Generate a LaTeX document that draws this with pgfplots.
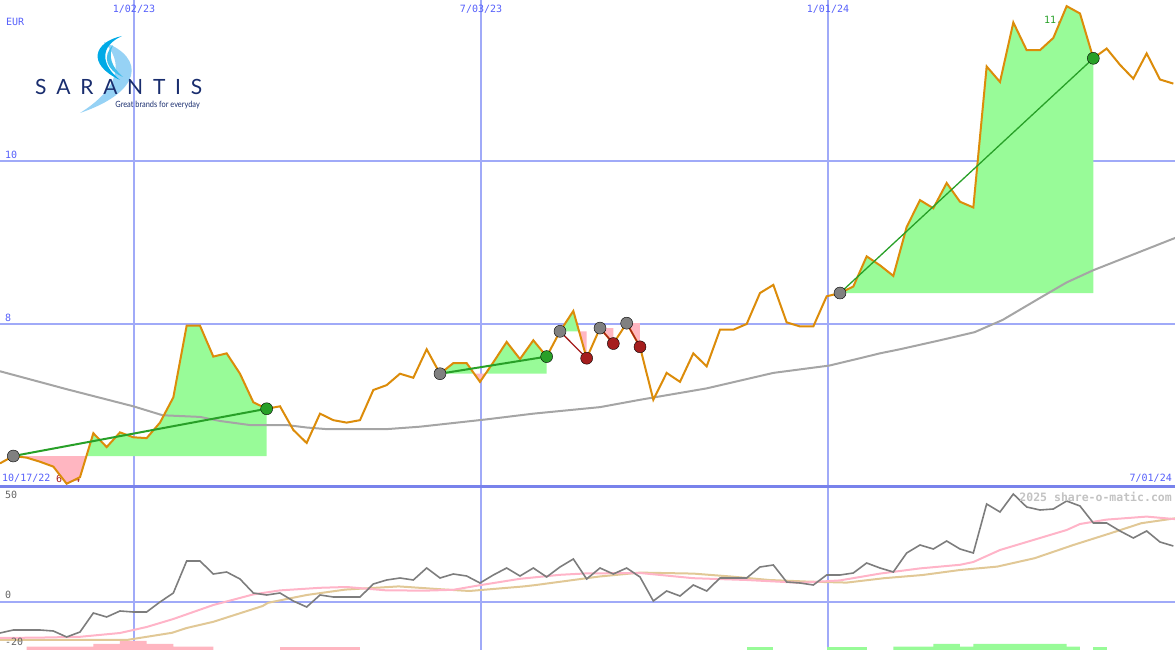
\documentclass[border=0pt]{standalone}
\usepackage{fontspec}
\usepackage{pgfplots}
\usepackage{pgfplotstable}
\pgfplotsset{compat=1.18}
\newfontfamily\monofont{DejaVu Sans Mono}
\newfontfamily\logofont{Lato}
\definecolor{gridblue}{RGB}{160,170,248}
\definecolor{sepblue}{RGB}{120,130,235}
\definecolor{lblue}{RGB}{85,95,250}
\definecolor{orng}{RGB}{220,140,10}
\definecolor{fgreen}{RGB}{152,251,152}
\definecolor{fpink}{RGB}{255,182,193}
\definecolor{tgreen}{RGB}{40,160,40}
\definecolor{tred}{RGB}{165,30,30}
\definecolor{mkgray}{RGB}{128,128,128}
\definecolor{magray}{RGB}{165,165,165}
\definecolor{momgray}{RGB}{125,125,125}
\definecolor{tanline}{RGB}{225,200,150}
\definecolor{pinkline}{RGB}{255,180,200}
\definecolor{navy}{RGB}{25,45,110}
\definecolor{cyanlogo}{RGB}{0,170,230}
\definecolor{lbluelogo}{RGB}{150,210,245}
\definecolor{wmgray}{RGB}{195,195,195}
\definecolor{lblgray}{RGB}{100,100,100}

% weekly close, EUR (week index from 10/17/22)
\pgfplotstableread{
i p
0 6.29
1 6.38
2 6.36
3 6.31
4 6.25
5 6.04
6 6.12
7 6.66
8 6.49
9 6.67
10 6.61
11 6.60
12 6.79
13 7.10
14 7.98
15 7.98
16 7.60
17 7.64
18 7.39
19 7.04
20 6.96
21 6.99
22 6.70
23 6.54
24 6.90
25 6.82
26 6.79
27 6.82
28 7.19
29 7.25
30 7.39
31 7.34
32 7.69
33 7.39
34 7.52
35 7.52
36 7.29
37 7.53
38 7.78
39 7.57
40 7.80
41 7.60
42 7.91
43 8.16
44 7.58
45 7.95
46 7.76
47 8.01
48 7.72
49 7.07
50 7.40
51 7.29
52 7.64
53 7.48
54 7.93
55 7.93
56 8.00
57 8.38
58 8.48
59 8.02
60 7.97
61 7.97
62 8.34
63 8.38
64 8.46
65 8.83
66 8.72
67 8.59
68 9.19
69 9.52
70 9.42
71 9.73
72 9.50
73 9.43
74 11.16
75 10.97
76 11.70
77 11.36
78 11.36
79 11.51
80 11.90
81 11.81
82 11.26
83 11.38
84 11.18
85 11.01
86 11.32
87 11.00
88 10.95
}\price

% long moving average
\pgfplotstableread{
i ma
0 7.42
5 7.20
10 6.99
12.2 6.88
15 6.86
16.5 6.81
18.75 6.76
21.5 6.76
23 6.73
24.5 6.71
29 6.71
31.5 6.74
36.5 6.83
40 6.90
45 6.98
48 7.07
53 7.21
58 7.40
62.2 7.49
64.5 7.58
66 7.64
67.5 7.69
70.5 7.80
73.1 7.90
75.2 8.05
78 8.32
80 8.51
82 8.66
88.2 9.06
}\mavg

% lower panel: momentum
\pgfplotstableread{
i m
0 -15.5
1 -14
2 -14
3 -14
4 -14.5
5 -17.5
6 -15
7 -5.5
8 -7.5
9 -4.5
10 -5
11 -5
12 0
13 4.5
14 20.5
15 20.5
16 14
17 15
18 11.5
19 4.5
20 3.5
21 4.5
22 0.5
23 -2.5
24 3.5
25 2.5
26 2.5
27 2.5
28 9
29 11
30 12
31 11
32 17
33 12
34 14
35 13
36 9.5
37 13.5
38 17
39 13
40 17
41 12.5
42 17.5
43 21.5
44 11.5
45 17
46 14
47 17
48 12.5
49 0.5
50 5.5
51 3
52 8.5
53 5.5
54 12
55 12
56 12
57 17.5
58 18.5
59 10
60 9.5
61 8.5
62 13.5
63 13.5
64 14.5
65 19.5
66 17
67 15
68 24.5
69 28.5
70 26.5
71 30.5
72 26.5
73 24.5
74 49
75 45
76 54
77 47.5
78 46
79 46.5
80 50.5
81 48
82 39.5
83 39.5
84 35.5
85 32
86 35.5
87 30
88 28
}\mom

\pgfplotstableread{
i s
0 -18
3 -17.8
6 -17.4
9 -15.5
11 -12.5
13 -8.5
16 -1.5
19 3.8
21 5.8
24 7.1
26 7.5
29 5.8
32 5.7
34 6.1
36 8.4
39 11.6
42 13.6
44 14.3
48 14.5
52 11.9
56 11
60 9.6
63 10.8
66 14.2
69 16.8
72 18.6
73 20
75 26
78 32
80 36
81 39
83 41.2
86 42.7
88.2 41.4
}\fast

\pgfplotstableread{
i s
0 -19
9.5 -19
12.9 -15.4
14 -13
16 -9.9
19.7 -2
20.1 -0.4
23 3.5
25.9 6.2
29.9 7.8
33 6.4
35.2 5.5
39.3 7.8
40.2 8.5
44.9 12.7
48 14.7
52 14.2
54.9 12.7
57.7 11
60.6 10.2
63.5 9.7
66.3 11.9
69.2 13.5
72 16
74.8 17.7
77.6 21.9
80.5 28.5
83.3 34.4
85.6 39.4
88.2 41.9
}\slow

\pgfplotsset{
  chart/.style={
    scale only axis, width=1175pt, xmin=0, xmax=88.125,
    axis line style={draw=none}, tick style={draw=none},
    xtick={10.05,36.08,62.1}, xticklabels={}, yticklabels={},
    xmajorgrids, ymajorgrids,
    x grid style={gridblue, line width=1.2pt},
    y grid style={gridblue, line width=2pt}
  }
}
\tikzset{lbl/.style={inner sep=0pt, font=\monofont\fontsize{10}{10}\selectfont}}

\begin{document}
\begin{tikzpicture}
\path[use as bounding box] (0pt,0pt) rectangle (1175pt,650pt);

% price panel
\begin{axis}[chart, at={(0pt,163pt)}, anchor=south west, height=487pt,
  ymin=6, ymax=11.9755, ytick={8,10}]
  \node[lbl, text=tred, anchor=south west, yshift=4pt] at (axis cs:4.2,6) {6.04};
  \node[lbl, text=tgreen, anchor=south west] at (axis cs:78.3,11.68) {11.90};
  % gain / loss areas of each trade against its buy price
  \addplot[fill=fpink, draw=none] coordinates {(1,6.38) (2,6.36) (3,6.31) (4,6.25) (5,6.04) (6,6.12) (6.48,6.38)};
  \addplot[fill=fgreen, draw=none] coordinates {(6.48,6.38) (7,6.66) (8,6.49) (9,6.67) (10,6.61) (11,6.60)
    (12,6.79) (13,7.10) (14,7.98) (15,7.98) (16,7.60) (17,7.64) (18,7.39) (19,7.04) (20,6.96) (20,6.38)};
  \addplot[fill=fgreen, draw=none] coordinates {(33,7.39) (34,7.52) (35,7.52) (35.57,7.39)};
  \addplot[fill=fpink, draw=none] coordinates {(35.57,7.39) (36,7.29) (36.42,7.39)};
  \addplot[fill=fgreen, draw=none] coordinates {(36.42,7.39) (37,7.53) (38,7.78) (39,7.57) (40,7.80) (41,7.60) (41,7.39)};
  \addplot[fill=fgreen, draw=none] coordinates {(42,7.91) (43,8.16) (43.43,7.91)};
  \addplot[fill=fpink, draw=none] coordinates {(43.43,7.91) (44,7.58) (44,7.91)};
  \addplot[fill=fpink, draw=none] coordinates {(45,7.95) (46,7.76) (46,7.95)};
  \addplot[fill=fpink, draw=none] coordinates {(47,8.01) (48,7.72) (48,8.01)};
  \addplot[fill=fgreen, draw=none] coordinates {(63,8.38) (64,8.46) (65,8.83) (66,8.72) (67,8.59) (68,9.19)
    (69,9.52) (70,9.42) (71,9.73) (72,9.50) (73,9.43) (74,11.16) (75,10.97) (76,11.70) (77,11.36)
    (78,11.36) (79,11.51) (80,11.90) (81,11.81) (82,11.26) (82,8.38)};

  \addplot[magray, line width=2pt] table[x=i, y=ma] {\mavg};
  \addplot[orng, line width=2pt] table[x=i, y=p] {\price};

  % trades
  \addplot[tgreen, line width=2pt] coordinates {(1,6.38) (20,6.96)};
  \addplot[tgreen, line width=2pt] coordinates {(33,7.39) (41,7.60)};
  \addplot[tgreen, line width=1.3pt] coordinates {(63,8.38) (82,11.26)};
  \addplot[tred, line width=1.3pt] coordinates {(42,7.91) (44,7.58)};
  \addplot[tred, line width=1.3pt] coordinates {(45,7.95) (46,7.76)};
  \addplot[tred, line width=1.3pt] coordinates {(47,8.01) (48,7.72)};
  \addplot[only marks, mark=*, mark size=6pt, mark options={draw=none, fill=mkgray}]
    coordinates {(1,6.38) (33,7.39) (42,7.91) (45,7.95) (47,8.01) (63,8.38)};
  \addplot[only marks, mark=*, mark size=6pt, mark options={draw=none, fill=tgreen}]
    coordinates {(20,6.96) (41,7.60) (82,11.26)};
  \addplot[only marks, mark=*, mark size=6pt, mark options={draw=none, fill=tred}]
    coordinates {(44,7.58) (46,7.76) (48,7.72)};

  \node[lbl, text=lblue, anchor=north, yshift=-5pt] at (axis cs:10.05,11.9755) {1/02/23};
  \node[lbl, text=lblue, anchor=north, yshift=-5pt] at (axis cs:36.08,11.9755) {7/03/23};
  \node[lbl, text=lblue, anchor=north, yshift=-5pt] at (axis cs:62.1,11.9755) {1/01/24};
  \node[lbl, text=lblue, anchor=north west, xshift=6pt, yshift=-18pt] at (axis cs:0,11.9755) {EUR};
  \node[lbl, text=lblue, anchor=south west, xshift=5pt, yshift=2pt] at (axis cs:0,10) {10};
  \node[lbl, text=lblue, anchor=south west, xshift=5pt, yshift=2pt] at (axis cs:0,8) {8};
  \node[lbl, text=lblue, anchor=south west, xshift=2pt, yshift=4pt] at (axis cs:0,6) {10/17/22};
  \node[lbl, text=lblue, anchor=south east, xshift=-3pt, yshift=4pt] at (axis cs:88.125,6) {7/01/24};
\end{axis}

% indicator panel
\begin{axis}[chart, at={(0pt,0pt)}, anchor=south west, height=163pt,
  ymin=-24, ymax=57.5, ytick={0}]
  \addplot[fill=fpink, draw=none] coordinates {(2,-24) (2,-22.3) (7,-22.3) (7,-21) (9,-21)
    (9,-19.5) (11,-19.5) (11,-21) (13,-21) (13,-22.3) (16,-22.3) (16,-24)};
  \addplot[fill=fpink, draw=none] coordinates {(21,-24) (21,-22.3) (27,-22.3) (27,-24)};
  \addplot[fill=fgreen, draw=none] coordinates {(56,-24) (56,-22.3) (58,-22.3) (58,-24)};
  \addplot[fill=fgreen, draw=none] coordinates {(62,-24) (62,-22.3) (65,-22.3) (65,-24)};
  \addplot[fill=fgreen, draw=none] coordinates {(67,-24) (67,-22.3) (70,-22.3) (70,-21) (72,-21)
    (72,-22.3) (73,-22.3) (73,-21) (80,-21) (80,-22.3) (81,-22.3) (81,-24)};
  \addplot[fill=fgreen, draw=none] coordinates {(82,-24) (82,-22.3) (83,-22.3) (83,-24)};

  \addplot[tanline, line width=2pt] table[x=i, y=s] {\slow};
  \addplot[pinkline, line width=2pt] table[x=i, y=s] {\fast};
  \addplot[momgray, line width=1.6pt] table[x=i, y=m] {\mom};

  \node[lbl, text=lblgray, anchor=south west, xshift=5pt, yshift=2.7pt] at (axis cs:0,50) {50};
  \node[lbl, text=lblgray, anchor=south west, xshift=5pt, yshift=2.7pt] at (axis cs:0,0) {0};
  \node[lbl, text=lblgray, anchor=south west, xshift=5pt, yshift=-4pt] at (axis cs:0,-20) {-20};
  \node[inner sep=0pt, text=wmgray, anchor=north east, xshift=-3pt, yshift=-4.7pt,
    font=\monofont\bfseries\fontsize{11.5}{11.5}\selectfont] at (axis cs:88.125,57.5) {2025 share-o-matic.com};
\end{axis}

\draw[sepblue, line width=3pt] (0pt,163pt) -- (1175pt,163pt);

% logo
\begin{scope}[x=1pt, y=-1pt, shift={(0pt,650pt)}]
  \fill[lbluelogo] (104,42) .. controls (146,58) and (142,92) .. (80,113)
    .. controls (120,88) and (124,62) .. (104,42) -- cycle;
  \fill[cyanlogo] (122,36) .. controls (94,42) and (86,64) .. (120,80)
    .. controls (100,64) and (100,46) .. (122,36) -- cycle;
  \fill[cyanlogo!75!white] (113,45) .. controls (102,56) and (106,70) .. (123,77)
    .. controls (111,67) and (108,55) .. (113,45) -- cycle;
  \node[inner sep=0pt, anchor=base west, text=navy] at (35,95)
    {\logofont\fontsize{21}{21}\selectfont\makebox[167pt][s]{S\hfill A\hfill R\hfill A\hfill N\hfill T\hfill I\hfill S}};
  \node[inner sep=0pt, anchor=base east, text=navy, xscale=0.86] at (200,107.5)
    {\logofont\fontsize{8.6}{8.6}\selectfont Great brands for everyday};
\end{scope}
\end{tikzpicture}
\end{document}
